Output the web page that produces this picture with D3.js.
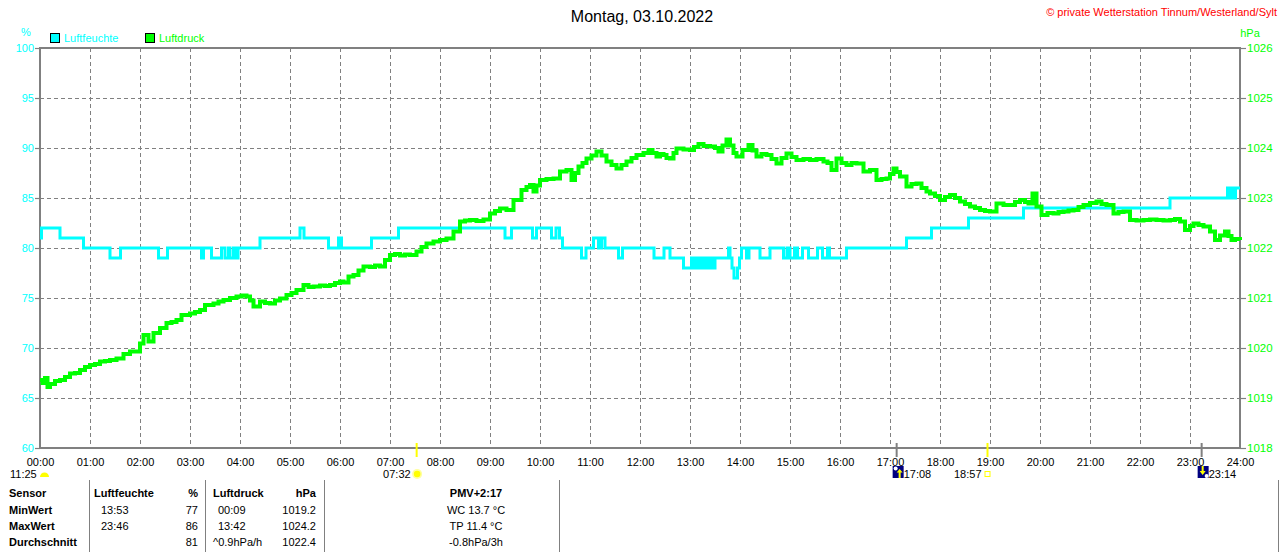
<!DOCTYPE html>
<html>
<head>
<meta charset="utf-8">
<script src="https://cdn.jsdelivr.net/npm/d3@7/dist/d3.min.js"></script>
<style>
html,body{margin:0;padding:0;background:#fff;}
svg{display:block;font-family:"Liberation Sans",Arial,sans-serif;}
</style>
</head>
<body>
<svg id="chart" width="1280" height="552"></svg>
<script>
// ---------- DATA ----------
const title = "Montag, 03.10.2022";
const copyright = "\u00A9 private Wetterstation Tinnum/Westerland/Sylt";
const seriesNames = ["Luftfeuchte", "Luftdruck"];
const hourTicks = d3.range(0, 25);
const humTicks = [60, 65, 70, 75, 80, 85, 90, 95, 100];
const presTicks = [1018, 1019, 1020, 1021, 1022, 1023, 1024, 1025, 1026];

// Luftfeuchte (%) — change points, decimal hours
const humTime = [0.00,0.03,0.40,0.87,1.40,1.61,2.37,2.55,3.23,3.27,3.43,3.63,3.70,3.77,3.80,3.87,3.92,3.96,4.40,5.20,5.28,5.77,5.97,6.03,6.63,7.17,
  9.30,9.43,9.85,9.93,10.23,10.32,10.39,10.45,10.83,10.92,11.07,11.17,11.23,11.30,11.57,11.65,12.28,12.48,12.60,12.87,
  13.03,13.06,13.10,13.13,13.17,13.21,13.25,13.30,13.34,13.38,13.43,13.47,13.50,13.77,13.80,13.84,13.88,13.95,13.99,14.03,14.13,14.18,14.40,14.60,
  14.87,14.94,15.00,15.09,15.15,15.25,15.37,15.55,15.65,15.75,15.79,16.13,17.33,17.83,18.57,19.67,22.60,23.75,23.80,23.83,23.88,23.91,24.00];
const humValue = [81,82,81,80,79,80,79,80,79,80,79,80,79,80,79,80,79,80,81,82,81,80,81,80,81,82,
  81,82,81,82,81,82,81,80,79,80,81,80,81,80,79,80,79,80,79,78,
  79,78,79,78,79,78,79,78,79,78,79,78,79,80,79,78,77,78,79,80,79,80,79,80,
  79,80,79,80,79,80,79,80,79,80,79,80,81,82,83,84,85,86,85,86,85,86,86];

// Luftdruck (hPa)
const presTime = [0.00,0.05,0.10,0.15,0.20,0.30,0.40,0.50,0.60,0.70,0.80,0.90,1.00,1.10,1.20,1.30,1.40,1.53,1.67,1.80,1.93,2.00,2.07,2.17,2.27,2.40,2.53,2.63,2.73,2.83,
  3.00,3.10,3.20,3.30,3.47,3.57,3.67,3.80,3.93,4.03,4.13,4.20,4.27,4.40,4.50,4.60,4.70,4.80,4.93,5.03,5.13,5.27,5.37,5.47,5.60,5.70,5.80,5.90,
  6.00,6.07,6.17,6.27,6.37,6.47,6.60,6.70,6.80,6.90,7.00,7.10,7.20,7.30,7.40,7.53,7.63,7.73,7.87,8.00,8.13,8.27,8.40,8.50,8.60,8.73,8.87,
  9.00,9.10,9.20,9.33,9.47,9.63,9.73,9.80,9.87,9.93,10.00,10.13,10.27,10.40,10.53,10.63,10.70,10.77,10.85,10.93,11.03,11.13,11.23,11.33,11.43,11.53,11.63,11.73,11.83,11.93,
  12.00,12.07,12.17,12.25,12.33,12.40,12.47,12.53,12.60,12.67,12.73,12.87,13.00,13.08,13.17,13.27,13.40,13.50,13.57,13.65,13.73,13.80,13.87,13.93,
  14.05,14.17,14.25,14.33,14.43,14.53,14.63,14.73,14.83,14.93,15.03,15.13,15.27,15.40,15.53,15.67,15.75,15.83,15.93,
  16.03,16.13,16.23,16.33,16.47,16.60,16.73,16.83,16.93,17.00,17.07,17.13,17.20,17.33,17.43,17.53,17.63,17.73,17.80,17.90,
  18.00,18.10,18.20,18.30,18.40,18.50,18.60,18.70,18.80,18.90,19.00,19.13,19.27,19.40,19.50,19.60,19.70,19.77,19.85,19.93,
  20.03,20.15,20.27,20.37,20.47,20.57,20.67,20.77,20.87,21.00,21.13,21.23,21.33,21.47,21.57,21.67,21.80,21.93,
  22.07,22.20,22.33,22.47,22.60,22.70,22.80,22.90,23.00,23.07,23.17,23.27,23.40,23.50,23.60,23.70,23.77,23.83,23.90,24.00];
const presValue = [1019.36,1019.30,1019.40,1019.22,1019.28,1019.34,1019.36,1019.42,1019.49,1019.50,1019.56,1019.62,1019.66,1019.68,1019.73,1019.74,1019.76,1019.79,1019.88,1019.93,1019.93,1020.09,1020.26,1020.13,1020.30,1020.40,1020.50,1020.52,1020.56,1020.66,
  1020.69,1020.72,1020.76,1020.86,1020.89,1020.93,1020.96,1021.00,1021.03,1021.05,1021.03,1020.95,1020.83,1020.93,1020.90,1020.89,1020.95,1020.99,1021.06,1021.10,1021.16,1021.26,1021.22,1021.23,1021.25,1021.24,1021.26,1021.30,
  1021.33,1021.31,1021.43,1021.46,1021.55,1021.63,1021.62,1021.65,1021.63,1021.76,1021.86,1021.88,1021.85,1021.87,1021.86,1021.93,1022.02,1022.09,1022.13,1022.16,1022.19,1022.33,1022.53,1022.55,1022.56,1022.54,1022.57,
  1022.69,1022.74,1022.79,1022.76,1022.96,1023.16,1023.22,1023.26,1023.13,1023.25,1023.36,1023.38,1023.39,1023.53,1023.56,1023.36,1023.50,1023.63,1023.70,1023.79,1023.85,1023.93,1023.85,1023.73,1023.66,1023.59,1023.66,1023.73,1023.80,1023.86,
  1023.86,1023.90,1023.96,1023.90,1023.83,1023.88,1023.86,1023.80,1023.79,1023.90,1023.99,1023.97,1023.96,1024.02,1024.08,1024.04,1024.03,1024.00,1023.93,1024.05,1024.17,1024.05,1023.90,1023.83,
  1023.96,1024.06,1023.95,1023.83,1023.88,1023.86,1023.78,1023.69,1023.80,1023.89,1023.82,1023.76,1023.78,1023.76,1023.78,1023.73,1023.70,1023.56,1023.79,
  1023.70,1023.66,1023.70,1023.69,1023.53,1023.56,1023.36,1023.38,1023.39,1023.48,1023.59,1023.52,1023.43,1023.23,1023.28,1023.29,1023.20,1023.13,1023.09,1023.04,
  1022.96,1023.02,1023.06,1023.00,1022.93,1022.88,1022.83,1022.80,1022.76,1022.74,1022.73,1022.89,1022.86,1022.86,1022.92,1022.96,1022.92,1022.89,1023.09,1022.83,
  1022.66,1022.70,1022.69,1022.72,1022.73,1022.75,1022.76,1022.82,1022.86,1022.90,1022.93,1022.88,1022.86,1022.69,1022.72,1022.73,1022.56,1022.55,
  1022.56,1022.57,1022.56,1022.55,1022.56,1022.58,1022.53,1022.36,1022.44,1022.49,1022.46,1022.43,1022.33,1022.16,1022.25,1022.33,1022.24,1022.16,1022.18,1022.16];

// astro markers
const sunTimes = [{t:7.533,label:"07:32",kind:"rise"},{t:18.95,label:"18:57",kind:"set"}];
const moonTimes = [{t:17.133,label:"17:08",kind:"rise"},{t:23.233,label:"23:14",kind:"set"}];
const dayLength = "11:25";

// statistics table
const tableHeader = ["Sensor","Luftfeuchte","%","Luftdruck","hPa","PMV+2:17"];
const rowLabels = ["MinWert","MaxWert","Durchschnitt"];
const humTimesCol = ["13:53","23:46",""];
const humValuesCol = ["77","86","81"];
const presTimesCol = ["00:09","13:42","^0.9hPa/h"];
const presValuesCol = ["1019.2","1024.2","1022.4"];
const extraCol = ["WC 13.7 \u00B0C","TP 11.4 \u00B0C","-0.8hPa/3h"];

// ---------- DRAW ----------
const CYAN = "#00ffff", GREEN = "#00ff00", GRAY = "#808080";
const svg = d3.select("#chart");
const L = 40, R = 1240, T = 48, B = 448;
const x = d3.scaleLinear().domain([0,24]).range([L,R]);
const yH = d3.scaleLinear().domain([60,100]).range([B,T]);
const yP = d3.scaleLinear().domain([1018,1026]).range([B,T]);

// grid
const grid = svg.append("g");
grid.selectAll("line.v").data(hourTicks.slice(1,-1)).join("line")
  .attr("x1", d=>x(d)+0.5).attr("x2", d=>x(d)+0.5).attr("y1",T).attr("y2",B)
  .attr("stroke",GRAY).attr("stroke-dasharray","4,3");
grid.selectAll("line.h").data(humTicks.slice(1,-1)).join("line")
  .attr("x1",L).attr("x2",R).attr("y1",d=>yH(d)+0.5).attr("y2",d=>yH(d)+0.5)
  .attr("stroke",GRAY).attr("stroke-dasharray","4,3");

// left axis
const axL = svg.append("g").attr("transform",`translate(${L},0)`)
  .call(d3.axisLeft(yH).tickValues(humTicks).tickSize(5).tickPadding(1).tickFormat(d3.format("d")));
axL.select(".domain").remove();
axL.selectAll(".tick line").attr("stroke",GRAY).attr("stroke-width",1.2);
axL.selectAll(".tick text").attr("fill",CYAN).attr("font-size","11px").attr("font-family","Liberation Sans, Arial, sans-serif");

// right axis
const axR = svg.append("g").attr("transform",`translate(${R},0)`)
  .call(d3.axisRight(yP).tickValues(presTicks).tickSize(6).tickPadding(1).tickFormat(d3.format("d")));
axR.select(".domain").remove();
axR.selectAll(".tick line").attr("stroke",GRAY).attr("stroke-width",1.2);
axR.selectAll(".tick text").attr("fill",GREEN).attr("font-size","11.5px").attr("font-family","Liberation Sans, Arial, sans-serif");

// bottom axis
const axB = svg.append("g").attr("transform",`translate(0,${B})`)
  .call(d3.axisBottom(x).tickValues(hourTicks).tickSize(0).tickPadding(10)
    .tickFormat(d=>String(d).padStart(2,"0")+":00"));
axB.select(".domain").remove();
axB.selectAll(".tick text").attr("fill","#000").attr("font-size","11px").attr("font-family","Liberation Sans, Arial, sans-serif");

// frame
svg.append("rect").attr("x",L).attr("y",T).attr("width",R-L).attr("height",B-T)
  .attr("fill","none").attr("stroke",GRAY).attr("stroke-width",2);

// series
const humData = humTime.map((t,i)=>({t, v:humValue[i]}));
const presData = presTime.map((t,i)=>({t, v:presValue[i]}));
svg.append("path").datum(humData)
  .attr("d", d3.line().x(d=>x(d.t)).y(d=>yH(d.v)).curve(d3.curveStepAfter))
  .attr("fill","none").attr("stroke",CYAN).attr("stroke-width",3);
svg.append("path").datum(presData)
  .attr("d", d3.line().x(d=>x(d.t)).y(d=>yP(d.v)).curve(d3.curveStepAfter))
  .attr("fill","none").attr("stroke",GREEN).attr("stroke-width",4);

// titles & legend
svg.append("text").attr("x",642).attr("y",22).attr("text-anchor","middle")
  .attr("font-size","16px").attr("fill","#000").text(title);
svg.append("text").attr("x",1277).attr("y",16).attr("text-anchor","end")
  .attr("font-size","11px").attr("fill","#ff0000").text(copyright);
svg.append("text").attr("x",26).attr("y",36).attr("text-anchor","middle")
  .attr("font-size","11px").attr("fill",CYAN).text("%");
svg.append("text").attr("x",1250).attr("y",37).attr("text-anchor","middle")
  .attr("font-size","11px").attr("fill",GREEN).text("hPa");
const legX = [50,145], legC = [CYAN, GREEN];
seriesNames.forEach((n,i)=>{
  svg.append("rect").attr("x",legX[i]+0.5).attr("y",33.5).attr("width",9).attr("height",9)
    .attr("fill",legC[i]).attr("stroke","#000").attr("stroke-width",1);
  svg.append("text").attr("x",legX[i]+14).attr("y",42).attr("font-size","11px")
    .attr("fill",legC[i]).text(n);
});

// astro markers
svg.append("text").attr("x",10).attr("y",478).attr("font-size","11px").text(dayLength);
svg.append("path").attr("d","M40,477 A4.5,4.5 0 0 1 49,477 Z").attr("fill","#ffff00");
sunTimes.forEach(s=>{
  const sx = x(s.t);
  svg.append("line").attr("x1",sx).attr("x2",sx).attr("y1",443).attr("y2",457)
    .attr("stroke","#ffff00").attr("stroke-width",2);
  svg.append("text").attr("x",sx-6).attr("y",478).attr("text-anchor","end")
    .attr("font-size","11px").text(s.label);
  if (s.kind==="rise") {
    svg.append("circle").attr("cx",sx+0.5).attr("cy",474).attr("r",5).attr("fill","#ffffa0");
    svg.append("circle").attr("cx",sx+0.5).attr("cy",474).attr("r",3.3).attr("fill","#ffff00");
  } else {
    svg.append("rect").attr("x",sx-2.5).attr("y",471.5).attr("width",5).attr("height",5)
      .attr("fill","none").attr("stroke","#ffff00").attr("stroke-width",1);
  }
});
moonTimes.forEach(m=>{
  const mx = x(m.t);
  svg.append("line").attr("x1",mx).attr("x2",mx).attr("y1",443).attr("y2",457)
    .attr("stroke",GRAY).attr("stroke-width",2);
  svg.append("rect").attr("x",mx-4).attr("y",466).attr("width",11).attr("height",12).attr("fill","#000080");
  const up = m.kind==="rise";
  svg.append("circle").attr("cx",up?mx-1:mx+5).attr("cy",up?468.5:476).attr("r",2).attr("fill","#fff");
  svg.append("path").attr("d", up
      ? `M${mx+3},469 L${mx},472.5 L${mx+2},472.5 L${mx+2},478 L${mx+4},478 L${mx+4},472.5 L${mx+6},472.5 Z`
      : `M${mx},466 L${mx+2},466 L${mx+2},471 L${mx+4},471 L${mx+1},475 L${mx-2},471 L${mx},471 Z`)
    .attr("fill","#ffff00");
  svg.append("text").attr("x",mx+7).attr("y",478).attr("font-size","11px").text(m.label);
});

// table
const sepX = [89,205,324,559,1278];
sepX.forEach(sx=>svg.append("line").attr("x1",sx+0.5).attr("x2",sx+0.5).attr("y1",480).attr("y2",552)
  .attr("stroke",GRAY).attr("stroke-width",1));
const rowY = [497,514,530,546];
const tb = svg.append("g").attr("font-size","11px").attr("fill","#000");
const hdr = tb.append("g").attr("font-weight","bold");
hdr.append("text").attr("x",9).attr("y",rowY[0]).text(tableHeader[0]);
hdr.append("text").attr("x",94).attr("y",rowY[0]).text(tableHeader[1]);
hdr.append("text").attr("x",198).attr("y",rowY[0]).attr("text-anchor","end").text(tableHeader[2]);
hdr.append("text").attr("x",213).attr("y",rowY[0]).text(tableHeader[3]);
hdr.append("text").attr("x",316).attr("y",rowY[0]).attr("text-anchor","end").text(tableHeader[4]);
hdr.append("text").attr("x",476).attr("y",rowY[0]).attr("text-anchor","middle").text(tableHeader[5]);
rowLabels.forEach((r,i)=>{
  const y = rowY[i+1];
  tb.append("text").attr("x",9).attr("y",y).attr("font-weight","bold").text(r);
  tb.append("text").attr("x",101).attr("y",y).text(humTimesCol[i]);
  tb.append("text").attr("x",198).attr("y",y).attr("text-anchor","end").text(humValuesCol[i]);
  tb.append("text").attr("x",i===2?213:218).attr("y",y).text(presTimesCol[i]);
  tb.append("text").attr("x",316).attr("y",y).attr("text-anchor","end").text(presValuesCol[i]);
  tb.append("text").attr("x",476).attr("y",y).attr("text-anchor","middle").text(extraCol[i]);
});
</script>
</body>
</html>
